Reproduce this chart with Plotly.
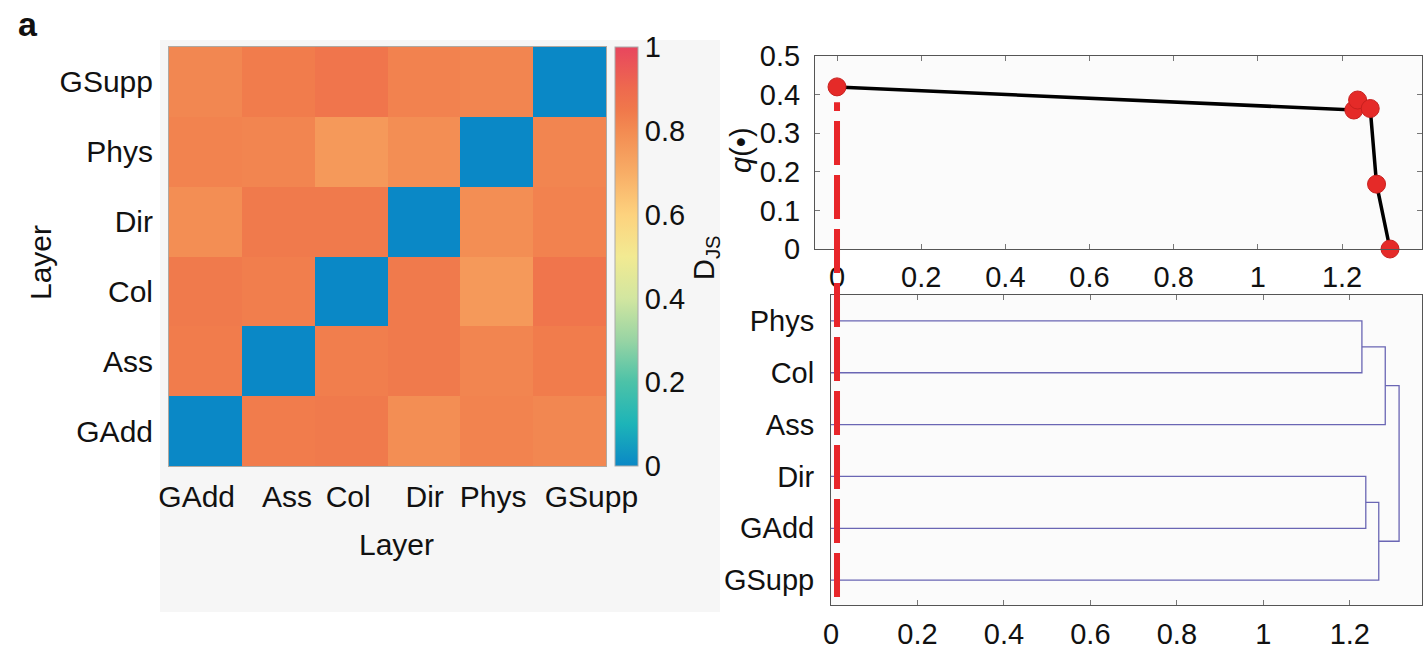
import plotly.graph_objects as go

# ---------------- data ----------------
layers = ["GAdd", "Ass", "Col", "Dir", "Phys", "GSupp"]

# Jensen-Shannon distance matrix (rows/cols in `layers` order)
djs_gadd = [0.00, 0.84, 0.845, 0.79, 0.82, 0.81]
djs_ass = [0.84, 0.00, 0.835, 0.845, 0.815, 0.84]
djs_col = [0.845, 0.835, 0.00, 0.845, 0.76, 0.86]
djs_dir = [0.79, 0.845, 0.845, 0.00, 0.79, 0.825]
djs_phys = [0.82, 0.815, 0.76, 0.79, 0.00, 0.815]
djs_gsupp = [0.81, 0.84, 0.86, 0.825, 0.815, 0.00]
djs = [djs_gadd, djs_ass, djs_col, djs_dir, djs_phys, djs_gsupp]

# quality function vs cut height
cut_heights = [0.0, 1.228, 1.237, 1.267, 1.282, 1.314]
q_values = [0.42, 0.36, 0.386, 0.364, 0.168, 0.0]

# dendrogram: leaf order bottom -> top, and linkage
leaf_order = ["GSupp", "GAdd", "Dir", "Ass", "Col", "Phys"]
merge_a = ["Phys", "Dir", "C2", "C1", "C4"]
merge_b = ["Col", "GAdd", "GSupp", "Ass", "C3"]
merge_h = [1.228, 1.237, 1.267, 1.282, 1.314]

heat_tick_shift = [-0.12, 0.12, -0.04, 0.01, -0.05, 0.30]

# ---------------- layout helpers ----------------
W, H = 1423, 652
FONT = "Liberation Sans, Arial, Helvetica, sans-serif"


def fx(px):
    return px / W


def fy(py):
    return 1 - py / H


colorscale = [
    [0.00, "#0a88c6"], [0.10, "#1db4b8"], [0.20, "#4cc2a8"], [0.30, "#98d4a4"],
    [0.40, "#d2e6a0"], [0.50, "#f2ea92"], [0.60, "#fdd27e"], [0.70, "#f8ad66"],
    [0.75, "#f59c5c"], [0.80, "#f38b52"], [0.85, "#f0784b"], [0.90, "#ee6a4e"],
    [1.00, "#e8465e"],
]

fig = go.Figure()

# heatmap
fig.add_trace(go.Heatmap(
    z=djs, x=list(range(len(layers))), y=layers,
    zmin=0, zmax=1, colorscale=colorscale, xgap=0, ygap=0,
    colorbar=dict(
        x=fx(615), xanchor="left", xpad=0, ypad=0,
        thickness=23, thicknessmode="pixels",
        y=fy(466), yanchor="bottom", len=(466 - 47) / H, lenmode="fraction",
        tick0=0, dtick=0.2, ticks="", outlinewidth=1, outlinecolor="#aaaaaa",
        tickfont=dict(family=FONT, size=29, color="#111"),
        ticklabelposition="outside",
    ),
    xaxis="x", yaxis="y", showscale=True,
))

# q curve
fig.add_trace(go.Scatter(
    x=cut_heights, y=q_values, mode="lines+markers",
    line=dict(color="black", width=3.5),
    marker=dict(color="#e52a28", size=18, line=dict(color="#c8201e", width=1)),
    xaxis="x2", yaxis="y2", showlegend=False, cliponaxis=False,
))

# dendrogram
ypos = {name: i + 1 for i, name in enumerate(leaf_order)}
hpos = {name: 0.0 for name in leaf_order}
for i, (a, b, h) in enumerate(zip(merge_a, merge_b, merge_h)):
    xs = [hpos[a], h, h, hpos[b]]
    ys = [ypos[a], ypos[a], ypos[b], ypos[b]]
    fig.add_trace(go.Scatter(
        x=xs, y=ys, mode="lines", line=dict(color="#6a66b4", width=1.3),
        xaxis="x3", yaxis="y3", showlegend=False, hoverinfo="skip",
    ))
    cname = "C%d" % (i + 1)
    ypos[cname] = (ypos[a] + ypos[b]) / 2
    hpos[cname] = h

tickfont_r = dict(family=FONT, size=29, color="#111")
tickfont_l = dict(family=FONT, size=30, color="#111")

y2_top, y2_bot = 56, 249
y2_range = [0, 0.5]

fig.update_layout(
    width=W, height=H, margin=dict(l=0, r=0, t=0, b=0),
    paper_bgcolor="white", plot_bgcolor="#fbfbfb",
    font=dict(family=FONT, color="#111"),
    showlegend=False,
    xaxis=dict(
        domain=[fx(169), fx(606)], range=[-0.5, 5.5],
        tickvals=[i + s for i, s in enumerate(heat_tick_shift)], ticktext=layers,
        tickangle=0, ticks="", tickfont=tickfont_l, ticklabelstandoff=4,
        showline=True, mirror=True, linecolor="#b0a8a0", linewidth=1,
        showgrid=False, zeroline=False, automargin=False,
    ),
    yaxis=dict(
        domain=[fy(466), fy(47)], ticks="", tickfont=tickfont_l,
        ticklabelstandoff=9, showline=True, mirror=True, linecolor="#b0a8a0",
        linewidth=1, showgrid=False, zeroline=False, automargin=False,
    ),
    xaxis2=dict(
        domain=[fx(815), fx(1422)], range=[-0.0523, 1.390],
        tick0=0, dtick=0.2, ticks="inside", ticklen=5, tickcolor="#777",
        tickfont=tickfont_r, ticklabelstandoff=2,
        showline=True, mirror="ticks", linecolor="#555", linewidth=1,
        showgrid=False, zeroline=False, automargin=False, anchor="y2",
    ),
    yaxis2=dict(
        domain=[fy(y2_bot), fy(y2_top)], range=y2_range,
        tick0=0, dtick=0.1, ticks="inside", ticklen=5, tickcolor="#777",
        tickfont=tickfont_r, ticklabelstandoff=8,
        showline=True, mirror="ticks", linecolor="#555", linewidth=1,
        showgrid=False, zeroline=False, automargin=False, anchor="x2",
    ),
    xaxis3=dict(
        domain=[fx(831), fx(1422)], range=[0, 1.367],
        tick0=0, dtick=0.2, ticks="inside", ticklen=5, tickcolor="#777",
        tickfont=tickfont_r, ticklabelstandoff=3,
        showline=True, mirror="ticks", linecolor="#555", linewidth=1,
        showgrid=False, zeroline=False, automargin=False, anchor="y3",
    ),
    yaxis3=dict(
        domain=[fy(605), fy(295)], range=[0.52, 6.5],
        tickvals=[ypos[n] for n in leaf_order], ticktext=leaf_order,
        ticks="", tickfont=tickfont_r, ticklabelstandoff=10,
        showline=True, mirror=True, linecolor="#555", linewidth=1,
        showgrid=False, zeroline=False, automargin=False, anchor="x3",
    ),
)

# background panel behind the heatmap
fig.add_shape(type="rect", xref="paper", yref="paper",
              x0=fx(160), x1=fx(720), y0=fy(612), y1=fy(40),
              fillcolor="#f6f6f6", line=dict(width=0), layer="below")

# red dashed cut line through both right-hand panels
q_start = 0.38
q_px = y2_bot - (q_start - y2_range[0]) / (y2_range[1] - y2_range[0]) * (y2_bot - y2_top)
fig.add_shape(type="line", xref="x2", yref="paper",
              x0=cut_heights[0], x1=cut_heights[0], y0=fy(597), y1=fy(q_px),
              line=dict(color="#e8262a", width=6, dash="44px,10px"), layer="above")

ann = [
    dict(text="<b>a</b>", x=fx(28), y=fy(24), size=34, angle=0),
    dict(text="Layer", x=fx(40), y=fy(263), size=30, angle=-90),
    dict(text="Layer", x=fx(396), y=fy(544), size=30, angle=0),
    dict(text="D<sub>JS</sub>", x=fx(706), y=fy(258), size=29, angle=-90),
    dict(text="<i>q</i>(•)", x=fx(741), y=fy(150), size=29, angle=-90),
]
for a in ann:
    fig.add_annotation(text=a["text"], x=a["x"], y=a["y"], xref="paper", yref="paper",
                       showarrow=False, textangle=a["angle"], xanchor="center", yanchor="middle",
                       font=dict(family=FONT, size=a["size"], color="#111"))

fig.write_html("out.html")
